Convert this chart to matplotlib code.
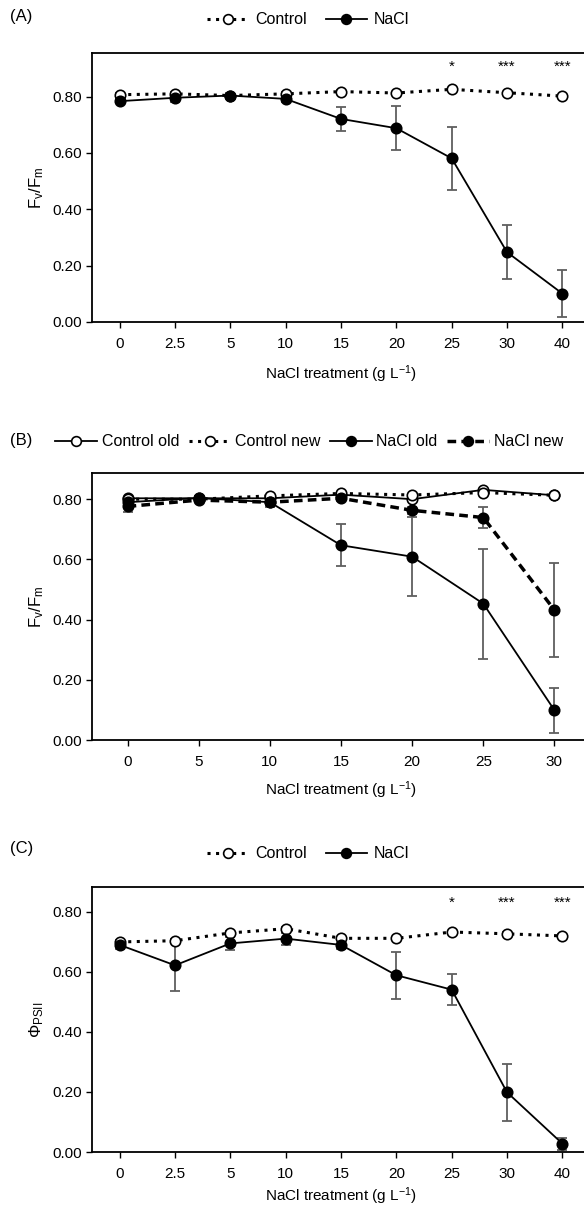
import numpy as np
import matplotlib
matplotlib.use('Agg')
import matplotlib.pyplot as plt
from matplotlib.lines import Line2D

plt.rcParams['font.family'] = ['Liberation Sans', 'DejaVu Sans']
plt.rcParams['mathtext.default'] = 'regular'
plt.rcParams['font.size'] = 10

# (A) Fv/Fm
cats_a = ['0', '2.5', '5', '10', '15', '20', '25', '30', '40']
ctrl_a = [0.807, 0.810, 0.804, 0.810, 0.818, 0.813, 0.826, 0.814, 0.802]
ctrl_a_err = [0.005, 0.005, 0.004, 0.005, 0.004, 0.004, 0.004, 0.004, 0.004]
nacl_a = [0.784, 0.796, 0.804, 0.792, 0.721, 0.688, 0.581, 0.248, 0.101]
nacl_a_err = [0.008, 0.015, 0.008, 0.010, 0.044, 0.078, 0.111, 0.095, 0.082]
stars_a = ['', '', '', '', '', '', '*', '***', '***']

# (B) Fv/Fm old vs new leaves
cats_b = ['0', '5', '10', '15', '20', '25', '30']
ctrl_old = [0.803, 0.803, 0.803, 0.815, 0.800, 0.831, 0.813]
ctrl_old_err = [0.005, 0.004, 0.004, 0.004, 0.005, 0.004, 0.004]
ctrl_new = [0.800, 0.800, 0.811, 0.819, 0.814, 0.822, 0.813]
ctrl_new_err = [0.005, 0.004, 0.004, 0.004, 0.004, 0.004, 0.004]
nacl_old = [0.790, 0.804, 0.790, 0.647, 0.609, 0.453, 0.099]
nacl_old_err = [0.012, 0.008, 0.015, 0.070, 0.131, 0.183, 0.075]
nacl_new = [0.776, 0.797, 0.790, 0.803, 0.763, 0.739, 0.432]
nacl_new_err = [0.020, 0.008, 0.012, 0.008, 0.012, 0.036, 0.155]

# (C) PhiPSII
cats_c = ['0', '2.5', '5', '10', '15', '20', '25', '30', '40']
ctrl_c = [0.700, 0.704, 0.730, 0.744, 0.712, 0.712, 0.733, 0.727, 0.720]
ctrl_c_err = [0.006, 0.005, 0.006, 0.006, 0.006, 0.006, 0.005, 0.005, 0.005]
nacl_c = [0.690, 0.622, 0.695, 0.711, 0.690, 0.589, 0.541, 0.199, 0.028]
nacl_c_err = [0.012, 0.085, 0.022, 0.020, 0.015, 0.078, 0.052, 0.095, 0.020]
stars_c = ['', '', '', '', '', '', '*', '***', '***']

ERR = '#5f5f5f'
MS = 7.5


def series(ax, x, y, err, filled, ls, lw):
    ax.errorbar(x, y, yerr=err, fmt='none', ecolor=ERR, elinewidth=1.3,
                capsize=3.5, capthick=1.3, zorder=2)
    ax.plot(x, y, color='black', linestyle=ls, linewidth=lw, marker='o',
            markersize=MS, markerfacecolor='black' if filled else 'white',
            markeredgecolor='black', markeredgewidth=1.2, zorder=3)


def style_axes(ax, cats, ytop, ylabel, xpad):
    ax.set_xlim(-0.5, len(cats) - 0.5)
    ax.set_ylim(0, ytop)
    ax.set_xticks(range(len(cats)))
    ax.set_xticklabels(cats)
    ax.set_yticks([0, 0.2, 0.4, 0.6, 0.8])
    ax.set_yticklabels(['%.2f' % v for v in [0, 0.2, 0.4, 0.6, 0.8]])
    ax.spines['right'].set_visible(False)
    for s in ['left', 'bottom', 'top']:
        ax.spines[s].set_linewidth(1.3)
    ax.tick_params(direction='out', length=4, width=1, labelsize=11)
    ax.tick_params(axis='x', pad=7)
    ax.set_xlabel('NaCl treatment (g L$^{-1}$)', fontsize=11, labelpad=xpad)
    ax.set_ylabel(ylabel, fontsize=12, labelpad=4)


def handle(filled, ls, lw):
    return Line2D([], [], color='black', linestyle=ls, linewidth=lw, marker='o',
                  markersize=MS - 0.5, markerfacecolor='black' if filled else 'white',
                  markeredgecolor='black', markeredgewidth=1.2)


DOT = (0, (1, 1.8))
DASH = (0, (2.5, 1.5))

fig = plt.figure(figsize=(5.84, 12.05), dpi=100)
W = 1205.0

def axes_at(top_px, bottom_px):
    return fig.add_axes([92 / 584, 1 - bottom_px / W, 498 / 584, (bottom_px - top_px) / W])

leg_kw = dict(loc='center', frameon=False, handlelength=2.6, fontsize=11.5)

# ---- (A)
ax = axes_at(53, 322)
xa = np.arange(len(cats_a))
series(ax, xa, ctrl_a, ctrl_a_err, False, DOT, 2.2)
series(ax, xa, nacl_a, nacl_a_err, True, '-', 1.3)
for i, s in enumerate(stars_a):
    if s:
        ax.text(i, 0.905, s, ha='center', va='center', fontsize=11)
style_axes(ax, cats_a, 0.955, r'F$_{v}$/F$_{m}$', 9)
fig.text(10 / 584, 1 - 17 / W, '(A)', fontsize=12, va='center')
fig.legend([handle(False, DOT, 2.2), handle(True, '-', 1.3)], ['Control', 'NaCl'],
           bbox_to_anchor=(308 / 584, 1 - 20 / W), ncol=2,
           handletextpad=0.4, columnspacing=1.2, **leg_kw)

# ---- (B)
ax = axes_at(473, 740)
xb = np.arange(len(cats_b))
series(ax, xb, ctrl_old, ctrl_old_err, False, '-', 1.3)
series(ax, xb, ctrl_new, ctrl_new_err, False, DOT, 2.2)
series(ax, xb, nacl_old, nacl_old_err, True, '-', 1.3)
series(ax, xb, nacl_new, nacl_new_err, True, DASH, 2.5)
style_axes(ax, cats_b, 0.887, r'F$_{v}$/F$_{m}$', 7)
fig.text(10 / 584, 1 - 441 / W, '(B)', fontsize=12, va='center')
fig.legend([handle(False, '-', 1.3), handle(False, DOT, 2.2),
            handle(True, '-', 1.3), handle(True, DASH, 2.5)],
           ['Control old', 'Control new', 'NaCl old', 'NaCl new'],
           bbox_to_anchor=(309 / 584, 1 - 442 / W), ncol=4,
           handletextpad=0.3, columnspacing=0.6, **leg_kw)

# ---- (C)
ax = axes_at(887, 1152)
xc = np.arange(len(cats_c))
series(ax, xc, ctrl_c, ctrl_c_err, False, DOT, 2.2)
series(ax, xc, nacl_c, nacl_c_err, True, '-', 1.3)
for i, s in enumerate(stars_c):
    if s:
        ax.text(i, 0.83, s, ha='center', va='center', fontsize=11)
style_axes(ax, cats_c, 0.883, r'$\Phi_{PSII}$', 3)
fig.text(10 / 584, 1 - 849 / W, '(C)', fontsize=12, va='center')
fig.legend([handle(False, DOT, 2.2), handle(True, '-', 1.3)], ['Control', 'NaCl'],
           bbox_to_anchor=(308 / 584, 1 - 854 / W), ncol=2,
           handletextpad=0.4, columnspacing=1.2, **leg_kw)

fig.savefig('out.png', dpi=100)
